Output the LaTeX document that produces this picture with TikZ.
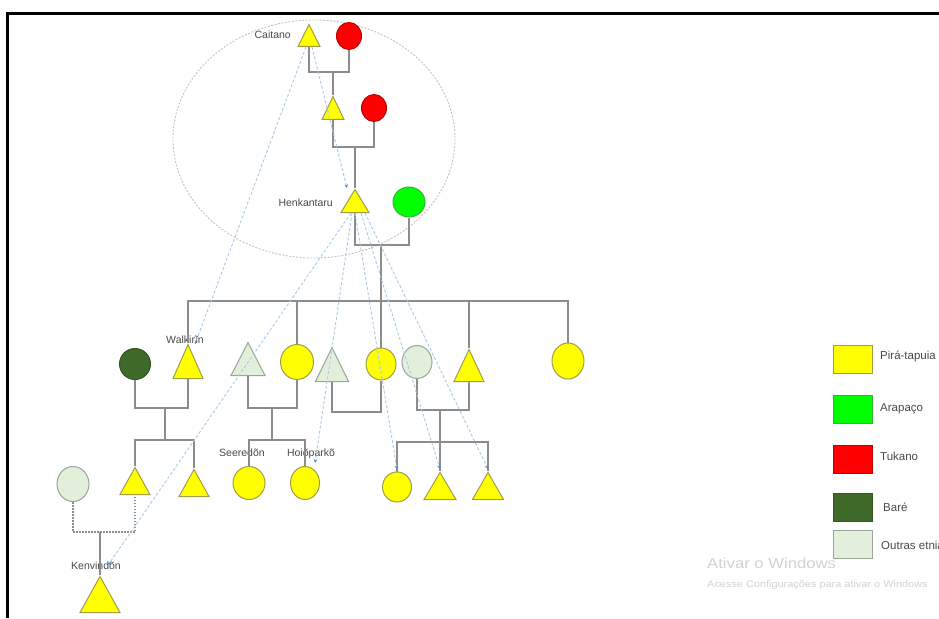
\documentclass[tikz,border=0pt]{standalone}
\usepackage{fontspec}
\setmainfont{Liberation Sans}
\usetikzlibrary{shapes.geometric,arrows.meta}

\definecolor{ptyfill}{HTML}{FFFF00}
\definecolor{ptyline}{HTML}{9E9E4A}
\definecolor{tukfill}{HTML}{FF0000}
\definecolor{tukline}{HTML}{C00000}
\definecolor{arafill}{HTML}{00FF00}
\definecolor{araline}{HTML}{2FB82F}
\definecolor{barfill}{HTML}{3F6A2A}
\definecolor{barline}{HTML}{34561F}
\definecolor{othfill}{HTML}{E2EFDA}
\definecolor{othline}{HTML}{9AA59A}
\definecolor{kinline}{HTML}{8C8C8C}
\definecolor{relline}{HTML}{A9C9EA}
\definecolor{reltip}{HTML}{4A8FDB}
\definecolor{ringline}{HTML}{C4C4C4}
\definecolor{labeltext}{HTML}{4A4A4A}

\tikzset{
  tri/.style={isosceles triangle, isosceles triangle stretches, shape border rotate=90,
              inner sep=0pt, anchor=south, line width=1pt},
  circ/.style={ellipse, inner sep=0pt, line width=1pt},
  pty/.style={fill=ptyfill, draw=ptyline},
  tuk/.style={fill=tukfill, draw=tukline},
  ara/.style={fill=arafill, draw=araline},
  bar/.style={fill=barfill, draw=barline},
  oth/.style={fill=othfill, draw=othline},
  kin/.style={draw=kinline, line width=1.1pt},
  rel/.style={draw=relline, line width=0.9pt, dash pattern=on 3pt off 2pt,
              -{Stealth[length=4pt,width=3.5pt,color=reltip]}},
  ring/.style={draw=ringline, line width=0.9pt, dash pattern=on 2pt off 1.5pt},
  personlabel/.style={text=labeltext, font=\fontsize{10.5}{12}\selectfont, inner sep=0pt},
  legbox/.style={minimum width=39pt, minimum height=28pt, inner sep=0pt, line width=1pt},
  legtext/.style={text=labeltext, font=\fontsize{11.5}{13}\selectfont, anchor=west, inner sep=0pt},
  notice/.style={text=gray!35, inner sep=0pt, anchor=west, xscale=1.15, transform shape}
}

\begin{document}
\begin{tikzpicture}[x=1pt,y=-1pt]
\useasboundingbox (0,0) rectangle (939,618);
\fill[white] (0,0) rectangle (939,618);

% frame
\draw[line width=3pt] (7.5,618) -- (7.5,13.5) -- (939,13.5);

% group ring around the ancestors
\draw[ring] (314,139) ellipse [x radius=141, y radius=119];

% generation 1
\node[tri, pty, minimum width=22pt, minimum height=22pt] (cai) at (309,47) {};
\node[circ, tuk, minimum width=25pt, minimum height=27pt] (tk1) at (349,36) {};
% generation 2
\node[tri, pty, minimum width=22pt, minimum height=23pt] (s1) at (333,120) {};
\node[circ, tuk, minimum width=25pt, minimum height=27pt] (tk2) at (374,108) {};
% generation 3
\node[tri, pty, minimum width=28pt, minimum height=23pt] (henk) at (355,213) {};
\node[circ, ara, minimum width=32pt, minimum height=30pt] (ar) at (409,202) {};

% generation 4
\node[circ, bar, minimum width=31pt, minimum height=31pt] (bare) at (135,364) {};
\node[tri, pty, minimum width=30pt, minimum height=34pt] (walk) at (188,379) {};
\node[tri, oth, minimum width=34pt, minimum height=33pt] (og1) at (248,376) {};
\node[circ, pty, minimum width=33pt, minimum height=35pt] (pt1) at (297,362) {};
\node[tri, oth, minimum width=33pt, minimum height=34pt] (og2) at (332,382) {};
\node[circ, pty, minimum width=30pt, minimum height=32pt] (pt2) at (381,364) {};
\node[circ, oth, minimum width=30pt, minimum height=33pt] (og3) at (417,362) {};
\node[tri, pty, minimum width=30pt, minimum height=32pt] (pt3) at (469,382) {};
\node[circ, pty, minimum width=32pt, minimum height=36pt] (pt4) at (568,361) {};

% generation 5
\node[circ, oth, minimum width=32pt, minimum height=35pt] (og4) at (73,484) {};
\node[tri, pty, minimum width=30pt, minimum height=27pt] (r3a) at (135,495) {};
\node[tri, pty, minimum width=30pt, minimum height=27pt] (r3b) at (194,497) {};
\node[circ, pty, minimum width=32pt, minimum height=33pt] (seer) at (249,483) {};
\node[circ, pty, minimum width=29pt, minimum height=33pt] (hoi) at (305,483) {};
\node[circ, pty, minimum width=29pt, minimum height=30pt] (r3c) at (397,487) {};
\node[tri, pty, minimum width=32pt, minimum height=27pt] (r3d) at (440,500) {};
\node[tri, pty, minimum width=31pt, minimum height=27pt] (r3e) at (488,500) {};

% generation 6
\node[tri, pty, minimum width=40pt, minimum height=36pt] (ken) at (100,613) {};

% names
\node[personlabel, anchor=east] (lcai) at (291,35) {Caitano};
\node[personlabel, anchor=east] (lhenk) at (333,203) {Henkantaru};
\node[personlabel] (lwalk) at (185,340) {Walkirĩn};
\node[personlabel] (lseer) at (242,453) {Seeredõn};
\node[personlabel] (lhoi) at (311,454) {Hoiõparkõ};
\node[personlabel] (lken) at (96,566) {Kenvindõn};

% couples and descent lines
\coordinate (m1) at (333,72);
\draw[kin] (cai.south) |- (m1) -| (tk1.south);
\draw[kin] (m1) -- (s1.north);

\coordinate (m2) at (355,147);
\draw[kin] (s1.south) |- (m2) -| (tk2.south);
\draw[kin] (m2) -- (henk.north);

\coordinate (m3) at (381,245);
\coordinate (sib1) at (381,301);
\draw[kin] (henk.south) |- (m3) -| (ar.south);
\draw[kin] (m3) -- (pt2.north);
\draw[kin] (walk.north) -- (walk.north |- sib1) -- (pt4.north |- sib1) -- (pt4.north);
\draw[kin] (pt1.north) -- (pt1.north |- sib1);
\draw[kin] (pt3.north) -- (pt3.north |- sib1);

\coordinate (m4) at (165,408);
\coordinate (sib2) at (165,440);
\draw[kin] (bare.south) |- (m4) -| (walk.south);
\draw[kin] (m4) -- (sib2);
\draw[kin] (r3a.north) |- (sib2) -| (r3b.north);

\coordinate (m5) at (272,408);
\coordinate (sib3) at (272,440);
\draw[kin] (og1.south) |- (m5) -| (pt1.south);
\draw[kin] (m5) -- (sib3);
\draw[kin] (seer.north) |- (sib3) -| (hoi.north);

\coordinate (m6) at (357,412);
\draw[kin] (og2.south) |- (m6) -| (pt2.south);

\coordinate (m7) at (440,410);
\coordinate (sib4) at (440,442);
\draw[kin] (og3.south) |- (m7) -| (pt3.south);
\draw[kin] (m7) -- (r3d.north);
\draw[kin] (r3c.north) |- (sib4) -| (r3e.north);

\coordinate (m8) at (100,532);
\draw[kin, dash pattern=on 1.5pt off 1.5pt] (og4.south) |- (m8) -| (r3a.south);
\draw[kin] (m8) -- (ken.north);

% name transmission links
\draw[rel] ([xshift=-3pt]cai.south) -- ([xshift=7pt,yshift=-1pt]walk.north);
\draw[rel] ([xshift=3pt]cai.south) -- ([xshift=-8pt]henk.north);
\draw[rel] ([xshift=-4pt]henk.south) -- ([xshift=8pt,yshift=10pt]ken.north);
\draw[rel] ([xshift=-3pt]henk.south) -- ([xshift=10pt,yshift=3pt]hoi.north);
\draw[rel] (henk.south) -- ([yshift=2pt]r3c.north);
\draw[rel] ([xshift=6pt]henk.south) -- ([yshift=2pt]r3d.north);
\draw[rel] ([xshift=10pt]henk.south) -- ([yshift=2pt]r3e.north);

% legend
\node[legbox, pty] (kpty) at (852.5,359) {};
\node[legbox, ara] (kara) at (852.5,409) {};
\node[legbox, tuk] (ktuk) at (852.5,459) {};
\node[legbox, bar] (kbar) at (852.5,507) {};
\node[legbox, oth] (koth) at (852.5,544) {};
\node[legtext] at (880,356) {Pirá-tapuia};
\node[legtext] at (880,409) {Arapaço};
\node[legtext] at (880,456) {Tukano};
\node[legtext] at (883,507) {Baré};
\node[legtext] at (881,545) {Outras etnias};

% system notice
\node[notice, font=\fontsize{14.5}{16}\selectfont] at (707,563) {Ativar o Windows};
\node[notice, font=\fontsize{9.5}{11}\selectfont] at (707,585) {Acesse Configurações para ativar o Windows};
\end{tikzpicture}
\end{document}
